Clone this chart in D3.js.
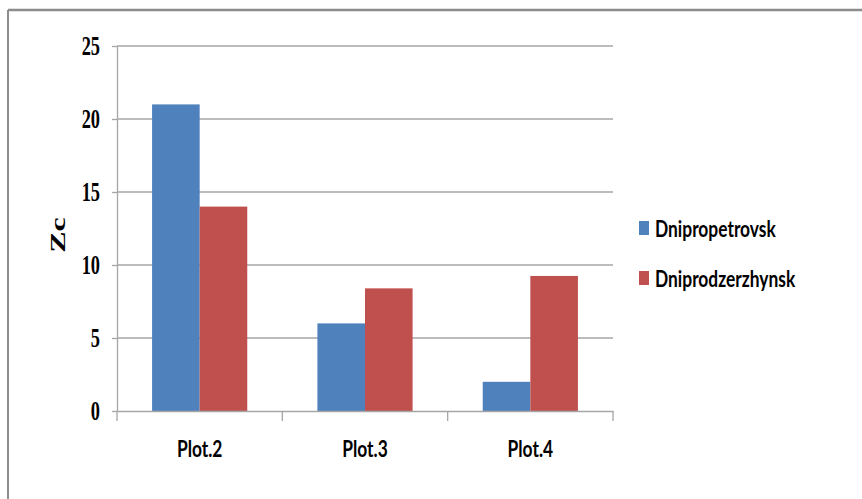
<!DOCTYPE html>
<html>
<head>
<meta charset="utf-8">
<script src="https://cdn.jsdelivr.net/npm/d3@7"></script>
<style>
  html, body { margin: 0; padding: 0; background: #fff; }
  svg { display: block; }
</style>
</head>
<body>
<div id="chart"></div>
<script>
(function () {

    var CATEGORIES = ["Plot.2", "Plot.3", "Plot.4"];
    var SERIES     = ["Dnipropetrovsk", "Dniprodzerzhynsk"];
    var DNIPROPETROVSK   = [21, 6, 2];
    var DNIPRODZERZHYNSK = [14, 8.4, 9.25];
    var Y_TICKS = [0, 5, 10, 15, 20, 25];

    var COLORS = ["#4F81BD", "#C0504D"];
    var SQUEEZE_SERIF = 0.68;   // the picture's text is narrowed horizontally
    var SQUEEZE_SANS  = 0.74;

    var W = 862, H = 499;
    var plot = { left: 117, right: 613, top: 46, bottom: 411 };

    var svg = d3.select("#chart").append("svg")
        .attr("width", W).attr("height", H);

    // outer frame: only top and left edges show
    svg.append("line")
        .attr("x1", 8).attr("x2", W).attr("y1", 10).attr("y2", 10)
        .attr("stroke", "#8c8c8c").attr("stroke-width", 2.5);
    svg.append("line")
        .attr("x1", 8).attr("x2", 8).attr("y1", 10).attr("y2", H)
        .attr("stroke", "#8c8c8c").attr("stroke-width", 2);

    /* ── scales ───────────────────────────────────────────────────── */
    var x0 = d3.scaleBand()
        .domain(CATEGORIES)
        .range([plot.left, plot.right])
        .paddingInner(0).paddingOuter(0);

    var x1 = d3.scaleBand()
        .domain(SERIES)
        .range([0, x0.bandwidth()])
        .paddingInner(0).paddingOuter(0.737);

    var y = d3.scaleLinear()
        .domain([0, 25])
        .range([plot.bottom, plot.top]);

    /* ── grid ─────────────────────────────────────────────────────── */
    svg.append("g")
        .selectAll("line")
        .data(Y_TICKS.filter(function (v) { return v > 0; }))
        .enter().append("line")
        .attr("x1", plot.left).attr("x2", plot.right)
        .attr("y1", function (d) { return y(d); })
        .attr("y2", function (d) { return y(d); })
        .attr("stroke", "#a6a6a6").attr("stroke-width", 1.3);

    /* ── bars ─────────────────────────────────────────────────────── */
    var rows = CATEGORIES.map(function (c, i) {
        return { cat: c, values: [DNIPROPETROVSK[i], DNIPRODZERZHYNSK[i]] };
    });

    svg.append("g")
        .selectAll("g")
        .data(rows)
        .enter().append("g")
        .attr("transform", function (d) { return "translate(" + x0(d.cat) + ",0)"; })
        .selectAll("rect")
        .data(function (d) {
            return d.values.map(function (v, j) { return { s: SERIES[j], v: v, j: j }; });
        })
        .enter().append("rect")
        .attr("x", function (d) { return x1(d.s); })
        .attr("width", x1.bandwidth())
        .attr("y", function (d) { return y(d.v); })
        .attr("height", function (d) { return y(0) - y(d.v); })
        .attr("fill", function (d) { return COLORS[d.j]; });

    /* ── axes ─────────────────────────────────────────────────────── */
    svg.append("g")
        .attr("transform", "translate(" + plot.left + ",0)")
        .call(d3.axisLeft(y).tickValues(Y_TICKS).tickSize(5).tickSizeOuter(0).tickFormat(""));

    var xAxis = svg.append("g")
        .attr("transform", "translate(0," + plot.bottom + ")")
        .call(d3.axisBottom(x0).tickSize(0).tickSizeOuter(0).tickFormat(""));

    // category boundary ticks
    var bounds = CATEGORIES.map(function (c) { return x0(c); }).concat([plot.right]);
    xAxis.selectAll(".bound")
        .data(bounds)
        .enter().append("line")
        .attr("class", "bound")
        .attr("x1", function (d) { return d; }).attr("x2", function (d) { return d; })
        .attr("y1", 0).attr("y2", 10);

    svg.selectAll(".domain, .tick line, .bound")
        .attr("stroke", "#a6a6a6").attr("stroke-width", 1.3);

    /* ── labels (narrowed) ───────────────────────────────────────── */
    function squeezed(px, py, txt, opts) {
        var g = svg.append("g")
            .attr("transform", "translate(" + px + "," + py + ") scale(" + opts.sx + ",1)" +
                (opts.rotate ? " rotate(" + opts.rotate + ")" : ""));
        g.append("text")
            .attr("text-anchor", opts.anchor || "start")
            .attr("font-family", opts.family)
            .attr("font-weight", "bold")
            .attr("font-size", opts.size)
            .attr("fill", "#000")
            .text(txt);
        return g;
    }

    var SERIF = "'Liberation Serif', 'Times New Roman', serif";
    var SANS  = "Lato, 'Open Sans', sans-serif";

    Y_TICKS.forEach(function (v) {
        squeezed(100, y(v) + 9, String(v),
            { anchor: "end", family: SERIF, size: 27, sx: SQUEEZE_SERIF });
    });

    CATEGORIES.forEach(function (c) {
        squeezed(x0(c) + x0.bandwidth() / 2, 457, c,
            { anchor: "middle", family: SANS, size: 23.5, sx: SQUEEZE_SANS });
    });

    // axis title, rotated, baseline on the right
    squeezed(65, 235, "Zc",
        { anchor: "middle", family: SERIF, size: 32, sx: SQUEEZE_SERIF, rotate: -90 });

    /* ── legend ───────────────────────────────────────────────────── */
    var LEGEND_Y = [221, 271];
    SERIES.forEach(function (s, i) {
        svg.append("rect")
            .attr("x", 639).attr("y", LEGEND_Y[i])
            .attr("width", 10).attr("height", 14)
            .attr("fill", COLORS[i]);
        squeezed(655, LEGEND_Y[i] + 16, s,
            { family: SANS, size: 23.5, sx: SQUEEZE_SANS });
    });

}());
</script>
</body>
</html>
